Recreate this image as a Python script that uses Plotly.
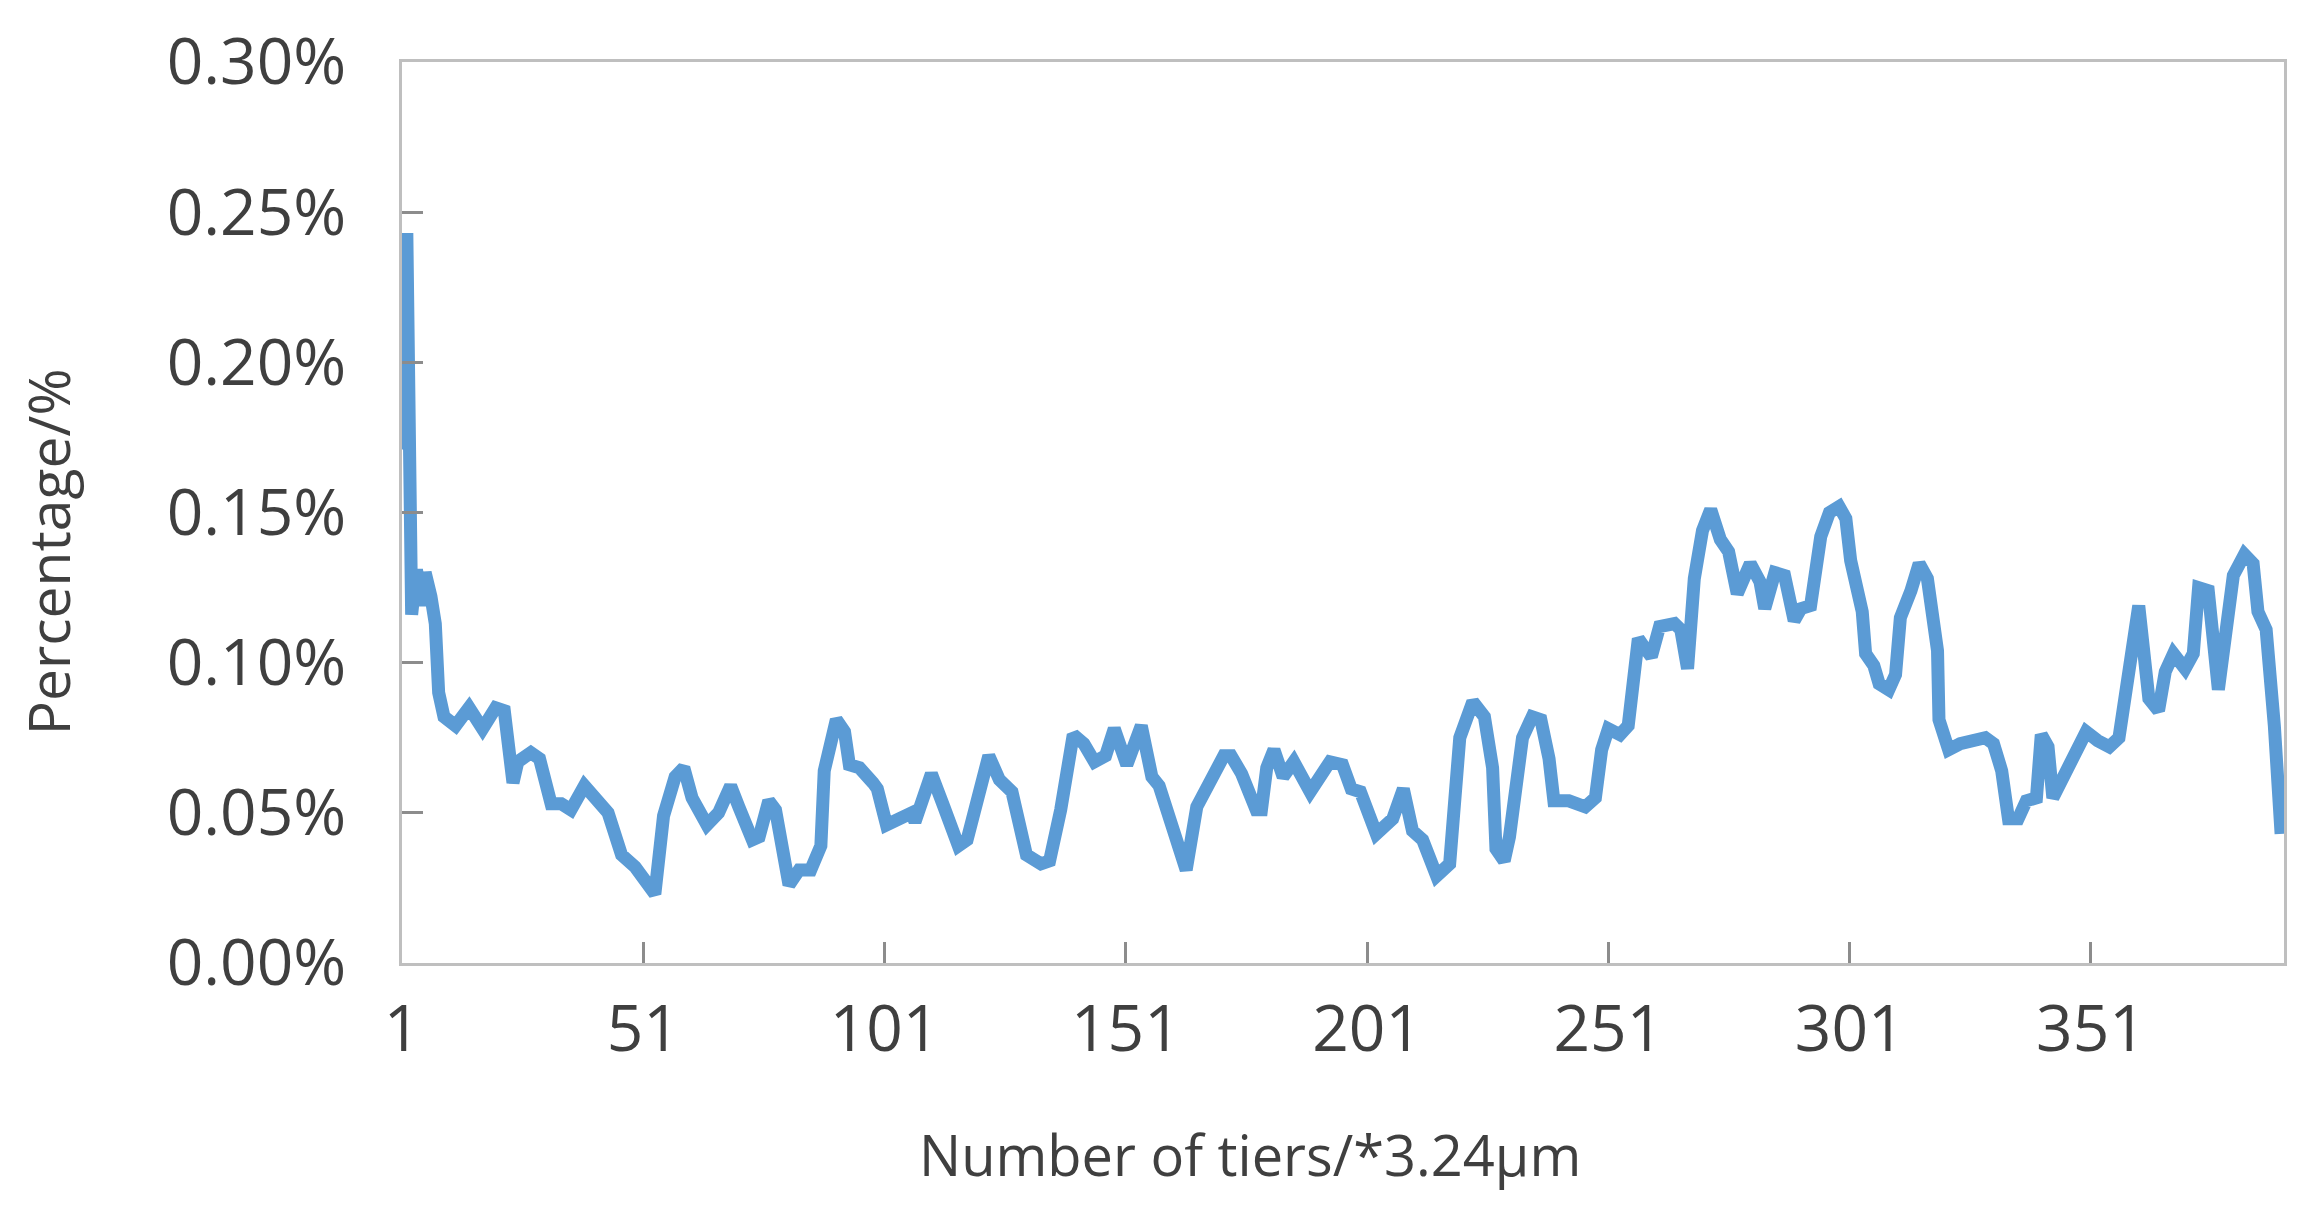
import plotly.graph_objects as go

tiers = [1, 2, 3, 4, 5, 5.8, 7, 7.9, 8.6, 9.7, 12.1, 14.9, 17.7, 20.4, 22.2, 24.0, 25, 27.7, 29.5, 31.9,
         34, 36, 38.8, 40.9, 43.7, 46.5, 49.3, 53.4, 55.2, 57.6, 59.4, 61.1, 64.2, 66.6, 69.1, 70.8, 73.6, 75,
         77, 78.4, 81.2, 83.3, 85.7, 87.8, 88.5, 91, 92.7, 93.7, 95.8, 98.6, 99.5, 101.4, 103.6, 106.6, 107.3,
         110.7, 113.3, 116.3, 118.1, 122.6, 124.8, 127.4, 130.4, 133.4, 135.2, 137.5, 140.1, 142.3, 144.5,
         146.8, 148.6, 151.2, 154.2, 156.4, 157.9, 160.2, 163.5, 165.7, 168.3, 171.3, 172.8, 175, 178, 179.1,
         180.2, 181.7, 183.6, 185.8, 189.2, 193.3, 195.9, 197.7, 199.6, 202.9, 206.3, 208.5, 210.4, 212.5,
         215.4, 218.1, 220.2, 222.9, 225.3, 227, 227.7, 229.4, 230.5, 233.2, 235.2, 237, 238.7, 239.7, 242.8,
         246.2, 248.3, 249.6, 251, 253.4, 255.1, 257.2, 258.5, 259.9, 261.6, 264.7, 266, 267.4, 268.8, 270.5,
         272.2, 274.2, 275.9, 277.7, 280.4, 282.4, 283.4, 285.5, 287.5, 289.5, 290.9, 292.9, 295, 296.8,
         298.8, 300.2, 301.2, 303.6, 304.3, 306, 307.1, 309.1, 310.5, 311.5, 313.7, 315.4, 317.1, 319.2,
         319.5, 321.5, 323.9, 326, 329.1, 330.8, 332.5, 333.9, 335.9, 337.6, 339.7, 340.7, 342.1, 343.1,
         346.5, 350, 352.4, 354.8, 356.8, 358.9, 360.9, 363, 365, 366.4, 368.1, 370.5, 372.2, 373.3, 375.3,
         377.4, 379.4, 380.5, 382.8, 384.6, 385.6, 387.3, 389.0, 390.4]

percentage = [0.171, 0.243, 0.116, 0.131, 0.119, 0.130, 0.122, 0.113, 0.090, 0.082, 0.079, 0.085, 0.078, 0.085,
              0.084, 0.060, 0.067, 0.070, 0.068, 0.053, 0.053, 0.051, 0.059, 0.055, 0.050, 0.036, 0.032, 0.023,
              0.049, 0.062, 0.065, 0.055, 0.046, 0.050, 0.059, 0.052, 0.041, 0.042, 0.054, 0.051, 0.026, 0.031,
              0.031, 0.039, 0.064, 0.081, 0.077, 0.066, 0.065, 0.060, 0.058, 0.046, 0.048, 0.050, 0.047, 0.063,
              0.052, 0.039, 0.041, 0.069, 0.061, 0.057, 0.036, 0.033, 0.034, 0.051, 0.076, 0.073, 0.067, 0.069,
              0.078, 0.066, 0.079, 0.062, 0.059, 0.046, 0.031, 0.052, 0.061, 0.069, 0.069, 0.063, 0.051, 0.051,
              0.065, 0.071, 0.062, 0.067, 0.057, 0.067, 0.066, 0.058, 0.057, 0.043, 0.048, 0.058, 0.044, 0.041,
              0.029, 0.033, 0.075, 0.087, 0.082, 0.065, 0.038, 0.034, 0.042, 0.075, 0.082, 0.081, 0.068, 0.054,
              0.054, 0.052, 0.055, 0.071, 0.078, 0.076, 0.079, 0.108, 0.105, 0.102, 0.112, 0.113, 0.111, 0.098,
              0.128, 0.144, 0.151, 0.141, 0.137, 0.123, 0.133, 0.127, 0.118, 0.130, 0.129, 0.114, 0.118, 0.119,
              0.142, 0.150, 0.152, 0.148, 0.134, 0.117, 0.103, 0.099, 0.093, 0.091, 0.096, 0.115, 0.124, 0.133,
              0.128, 0.104, 0.081, 0.071, 0.073, 0.074, 0.075, 0.073, 0.064, 0.048, 0.048, 0.054, 0.055, 0.076,
              0.072, 0.055, 0.065, 0.077, 0.074, 0.072, 0.075, 0.099, 0.119, 0.088, 0.084, 0.097, 0.103, 0.098,
              0.103, 0.125, 0.124, 0.091, 0.122, 0.129, 0.136, 0.133, 0.117, 0.111, 0.079, 0.043]

x_ticks = [1, 51, 101, 151, 201, 251, 301, 351]
y_ticks = [0.00, 0.05, 0.10, 0.15, 0.20, 0.25, 0.30]
y_tick_labels = ["0.00%", "0.05%", "0.10%", "0.15%", "0.20%", "0.25%", "0.30%"]

FONT = "Open Sans"
TXT = "#3F3F3F"

fig = go.Figure()
fig.add_trace(go.Scatter(
    x=tiers, y=percentage, mode="lines",
    line=dict(color="#5B9BD5", width=13),
    showlegend=False, hoverinfo="skip",
))

axis_common = dict(
    showgrid=False, zeroline=False, showline=True, linecolor="#BFBFBF", linewidth=3,
    mirror=True, ticks="inside", ticklen=21, tickwidth=3, tickcolor="#8C8C8C",
    tickfont=dict(family=FONT, size=64, color=TXT),
)

fig.update_layout(
    width=2305, height=1218,
    paper_bgcolor="white", plot_bgcolor="white",
    margin=dict(l=394, r=29, t=54, b=263, autoexpand=False),
    xaxis=dict(range=[1, 391], tickmode="array", tickvals=x_ticks,
               ticktext=[str(v) for v in x_ticks], ticklabelstandoff=8, **axis_common),
    yaxis=dict(range=[0, 0.30], tickmode="array", tickvals=y_ticks, ticktext=y_tick_labels,
               ticklabelstandoff=40, **axis_common),
    annotations=[
        dict(text="Number of tiers/*3.24μm", xref="paper", yref="paper", x=0.4506, y=-0.212,
             xanchor="center", yanchor="middle", showarrow=False,
             font=dict(family=FONT, size=56, color=TXT)),
        dict(text="Percentage/%", xref="paper", yref="paper", x=-0.188, y=0.456,
             xanchor="center", yanchor="middle", showarrow=False, textangle=-90,
             font=dict(family=FONT, size=57, color=TXT)),
    ],
)

fig.write_html("out.html")
